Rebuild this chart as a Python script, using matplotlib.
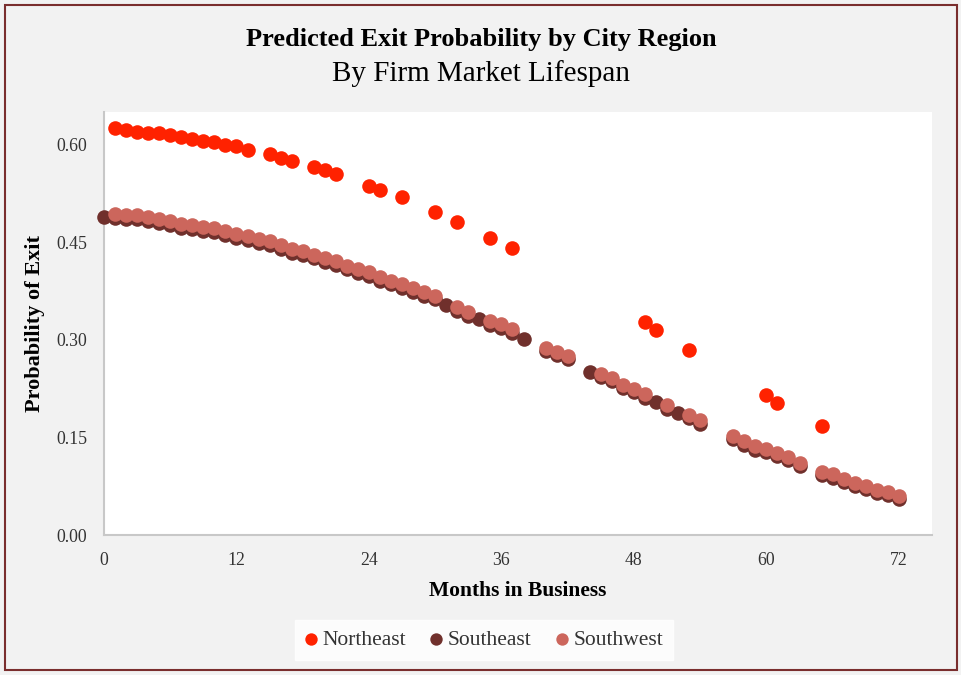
import matplotlib
matplotlib.use("Agg")
import matplotlib.pyplot as plt
from matplotlib.patches import Rectangle

# months and predicted exit probabilities per region
ne_months = [1, 2, 3, 4, 5, 6, 7, 8, 9, 10, 11, 12, 13, 15, 16, 17, 19, 20, 21,
             24, 25, 27, 30, 32, 35, 37, 49, 50, 53, 60, 61, 65]
ne_prob = [0.625, 0.622, 0.620, 0.617, 0.617, 0.615, 0.611, 0.608, 0.606, 0.604,
           0.599, 0.597, 0.592, 0.585, 0.579, 0.575, 0.566, 0.561, 0.554,
           0.537, 0.530, 0.520, 0.497, 0.481, 0.457, 0.441, 0.327, 0.315, 0.284,
           0.215, 0.203, 0.168]

se_months = list(range(0, 39)) + [40, 41, 42] + list(range(44, 55)) + \
    list(range(57, 64)) + list(range(65, 73))
se_prob = [0.488, 0.487, 0.486, 0.485, 0.483, 0.479, 0.477, 0.472, 0.470, 0.467,
           0.465, 0.461, 0.457, 0.453, 0.449, 0.445, 0.439, 0.434, 0.430, 0.425,
           0.420, 0.415, 0.408, 0.403, 0.398, 0.391, 0.385, 0.379, 0.373, 0.367,
           0.362, 0.353, 0.344, 0.337, 0.332, 0.323, 0.318, 0.310, 0.301,
           0.283, 0.276, 0.270,
           0.251, 0.243, 0.237, 0.226, 0.220, 0.211, 0.204, 0.194, 0.188, 0.180, 0.171,
           0.147, 0.139, 0.131, 0.127, 0.121, 0.115, 0.106,
           0.092, 0.088, 0.081, 0.075, 0.071, 0.064, 0.061, 0.055]

sw_months = list(range(1, 31)) + [32, 33, 35, 36, 37, 40, 41, 42, 45, 46, 47, 48,
                                  49, 51, 53, 54] + list(range(57, 64)) + list(range(65, 73))
sw_prob = [0.494, 0.492, 0.491, 0.489, 0.485, 0.483, 0.478, 0.476, 0.473, 0.471,
           0.467, 0.463, 0.459, 0.455, 0.451, 0.445, 0.440, 0.436, 0.431, 0.426,
           0.421, 0.414, 0.409, 0.404, 0.397, 0.391, 0.385, 0.379, 0.373, 0.368,
           0.350, 0.342, 0.329, 0.324, 0.316, 0.288, 0.281, 0.275, 0.248, 0.242,
           0.231, 0.225, 0.216, 0.199, 0.185, 0.176,
           0.152, 0.144, 0.136, 0.132, 0.126, 0.120, 0.111,
           0.097, 0.093, 0.086, 0.080, 0.076, 0.069, 0.066, 0.060]

x_ticks = [0, 12, 24, 36, 48, 60, 72]
y_ticks = [0.00, 0.15, 0.30, 0.45, 0.60]

serif = ["Liberation Serif", "DejaVu Serif"]
plt.rcParams["font.family"] = serif

fig = plt.figure(figsize=(9.62, 6.75), dpi=100, facecolor="#f2f2f2")
ax = fig.add_axes([0.1081, 0.2074, 0.8607, 0.6267])
ax.set_facecolor("white")

ax.scatter(ne_months, ne_prob, s=110, color="#ff2200", label="Northeast",
           clip_on=False, zorder=3, linewidths=0)
ax.scatter(se_months, se_prob, s=110, color="#70302c", label="Southeast",
           clip_on=False, zorder=3, linewidths=0)
ax.scatter(sw_months, sw_prob, s=110, color="#cc665c", label="Southwest",
           clip_on=False, zorder=4, linewidths=0)

ax.set_xlim(0, 75)
ax.set_ylim(0, 0.65)
ax.set_xticks(x_ticks)
ax.set_yticks(y_ticks)
ax.set_yticklabels(["%.2f" % v for v in y_ticks])
ax.tick_params(length=0, pad=12, labelsize=12.8, labelcolor="#333333")

for side in ["top", "right"]:
    ax.spines[side].set_visible(False)
for side in ["left", "bottom"]:
    ax.spines[side].set_color("#c8c8c8")
    ax.spines[side].set_linewidth(1.5)

ax.set_xlabel("Months in Business", fontsize=15.5, fontweight="bold", labelpad=9)
ax.set_ylabel("Probability of Exit", fontsize=16, fontweight="bold", labelpad=8)

fig.text(0.5, 0.941, "Predicted Exit Probability by City Region", ha="center",
         va="center", fontsize=19, fontweight="bold")
fig.text(0.5, 0.891, "By Firm Market Lifespan", ha="center", va="center",
         fontsize=21)

leg = fig.legend(loc="center", bbox_to_anchor=(0.503, 0.052), ncol=3,
                 fontsize=15.5, frameon=True, fancybox=False, handlelength=0.6,
                 handletextpad=0.25, columnspacing=1.1, borderpad=0.45,
                 borderaxespad=0, markerscale=0.85)
leg.get_frame().set_facecolor("white")
leg.get_frame().set_edgecolor("white")
for t in leg.get_texts():
    t.set_color("#333333")

# outer frame
fig.patches.append(Rectangle((0.005, 0.008), 0.99, 0.985, transform=fig.transFigure,
                             fill=False, edgecolor="#7a2e2e", linewidth=1.5))

fig.savefig("out.png", dpi=100, facecolor=fig.get_facecolor())
